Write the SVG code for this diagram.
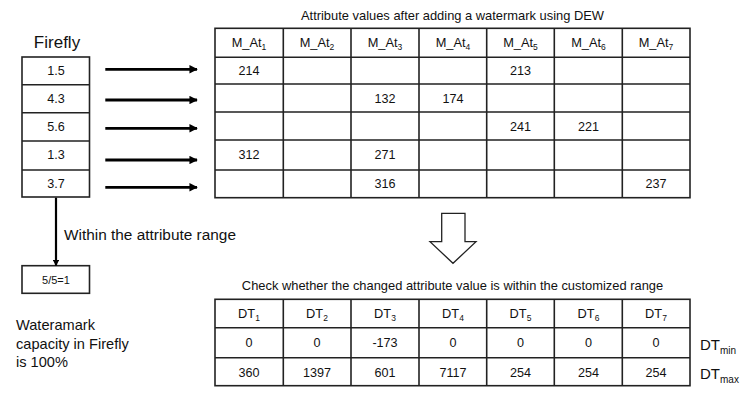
<svg xmlns="http://www.w3.org/2000/svg" width="747" height="397" viewBox="0 0 747 397">
<defs>
<style>
text{font-family:"Liberation Sans",Arial,sans-serif;fill:#111}
.c{font-size:12.6px;text-anchor:middle}
.t{font-size:12.8px;text-anchor:middle}
.s{font-size:8.5px}
.b{fill:none;stroke:#222;stroke-width:1.6}
.ln{stroke:#222;stroke-width:1.6;fill:none}
.ar{stroke:#000;stroke-width:2.8;fill:none}
</style>
<marker id="ah" viewBox="0 0 10 10" refX="9" refY="5" markerWidth="3" markerHeight="3" orient="auto" markerUnits="strokeWidth"><path d="M0,0 L10,5 L0,10 z" fill="#000"/></marker>
</defs>
<rect width="747" height="397" fill="#fff"/>

<g id="firefly">
<text x="57" y="48" font-size="17" text-anchor="middle">Firefly</text>
<rect class="b" x="22" y="57" width="67.5" height="140"/>
<path class="ln" d="M22 84.7H89.5M22 112.7H89.5M22 141H89.5M22 170H89.5"/>
<text class="c" x="56" y="75">1.5</text>
<text class="c" x="56" y="103">4.3</text>
<text class="c" x="56" y="131">5.6</text>
<text class="c" x="56" y="159">1.3</text>
<text class="c" x="56" y="188">3.7</text>
</g>

<g id="ratio">
<rect class="b" x="22" y="265.7" width="67.5" height="27.6"/>
<text x="56" y="283.5" font-size="11" text-anchor="middle">5/5=1</text>
</g>

<g id="range-label"><text x="64" y="239.5" font-size="15.4">Within the attribute range</text></g>

<g id="capacity">
<text x="16" y="329.5" font-size="14.6">Wateramark</text>
<text x="16" y="348.5" font-size="14.6">capacity in Firefly</text>
<text x="16" y="367" font-size="14.6">is 100%</text>
</g>

<g id="table-top">
<text x="452.5" y="20" font-size="12.9" text-anchor="middle">Attribute values after adding a watermark using DEW</text>
<rect class="b" x="215" y="28.3" width="475" height="169.4"/>
<path class="ln" d="M215 57.3H690M215 84H690M215 112H690M215 140H690M215 170H690"/>
<path class="ln" d="M283.3 28.3V197.7M351 28.3V197.7M419 28.3V197.7M486.7 28.3V197.7M554.3 28.3V197.7M622.3 28.3V197.7"/>
<text class="t" x="249" y="47">M_At<tspan class="s" dy="3">1</tspan></text>
<text class="t" x="317" y="47">M_At<tspan class="s" dy="3">2</tspan></text>
<text class="t" x="385" y="47">M_At<tspan class="s" dy="3">3</tspan></text>
<text class="t" x="453" y="47">M_At<tspan class="s" dy="3">4</tspan></text>
<text class="t" x="520.5" y="47">M_At<tspan class="s" dy="3">5</tspan></text>
<text class="t" x="588.5" y="47">M_At<tspan class="s" dy="3">6</tspan></text>
<text class="t" x="656" y="47">M_At<tspan class="s" dy="3">7</tspan></text>
<text class="c" x="249" y="75">214</text>
<text class="c" x="520.5" y="75">213</text>
<text class="c" x="385" y="102.5">132</text>
<text class="c" x="453" y="102.5">174</text>
<text class="c" x="520.5" y="130.5">241</text>
<text class="c" x="588.5" y="130.5">221</text>
<text class="c" x="249" y="158.5">312</text>
<text class="c" x="385" y="158.5">271</text>
<text class="c" x="385" y="188">316</text>
<text class="c" x="656" y="188">237</text>
</g>

<g id="down-arrow">
<path d="M441.7 213.3H465V241.7H476L453 263.3L430 241.7H441.7Z" fill="#fff" stroke="#222" stroke-width="1.3"/>
</g>

<g id="table-bottom">
<text x="452.5" y="289.5" font-size="12.9" text-anchor="middle">Check whether the changed attribute value is within the customized range</text>
<rect class="b" x="215" y="299.3" width="475" height="86.4"/>
<path class="ln" d="M215 327.7H690M215 357.7H690"/>
<path class="ln" d="M283.3 299.3V385.7M351 299.3V385.7M419 299.3V385.7M486.7 299.3V385.7M554.3 299.3V385.7M622.3 299.3V385.7"/>
<text class="t" x="249" y="318">DT<tspan class="s" dy="3">1</tspan></text>
<text class="t" x="317" y="318">DT<tspan class="s" dy="3">2</tspan></text>
<text class="t" x="385" y="318">DT<tspan class="s" dy="3">3</tspan></text>
<text class="t" x="453" y="318">DT<tspan class="s" dy="3">4</tspan></text>
<text class="t" x="520.5" y="318">DT<tspan class="s" dy="3">5</tspan></text>
<text class="t" x="588.5" y="318">DT<tspan class="s" dy="3">6</tspan></text>
<text class="t" x="656" y="318">DT<tspan class="s" dy="3">7</tspan></text>
<text class="c" x="249" y="347">0</text>
<text class="c" x="317" y="347">0</text>
<text class="c" x="385" y="347">-173</text>
<text class="c" x="453" y="347">0</text>
<text class="c" x="520.5" y="347">0</text>
<text class="c" x="588.5" y="347">0</text>
<text class="c" x="656" y="347">0</text>
<text class="c" x="249" y="376.5">360</text>
<text class="c" x="317" y="376.5">1397</text>
<text class="c" x="385" y="376.5">601</text>
<text class="c" x="453" y="376.5">7117</text>
<text class="c" x="520.5" y="376.5">254</text>
<text class="c" x="588.5" y="376.5">254</text>
<text class="c" x="656" y="376.5">254</text>
<text x="700" y="350" font-size="15">DT<tspan font-size="10" dy="4">min</tspan></text>
<text x="700" y="379" font-size="15">DT<tspan font-size="10" dy="4">max</tspan></text>
</g>

<g id="connectors">
<path class="ar" d="M105.3 69.3H197" marker-end="url(#ah)"/>
<path class="ar" d="M105.3 100H197" marker-end="url(#ah)"/>
<path class="ar" d="M105.3 128.3H197" marker-end="url(#ah)"/>
<path class="ar" d="M105.3 160H197" marker-end="url(#ah)"/>
<path class="ar" d="M105.3 187.3H197" marker-end="url(#ah)"/>
<path d="M56 197.7V265.5" stroke="#000" stroke-width="2.2" fill="none" marker-end="url(#ah)"/>
</g>
</svg>
